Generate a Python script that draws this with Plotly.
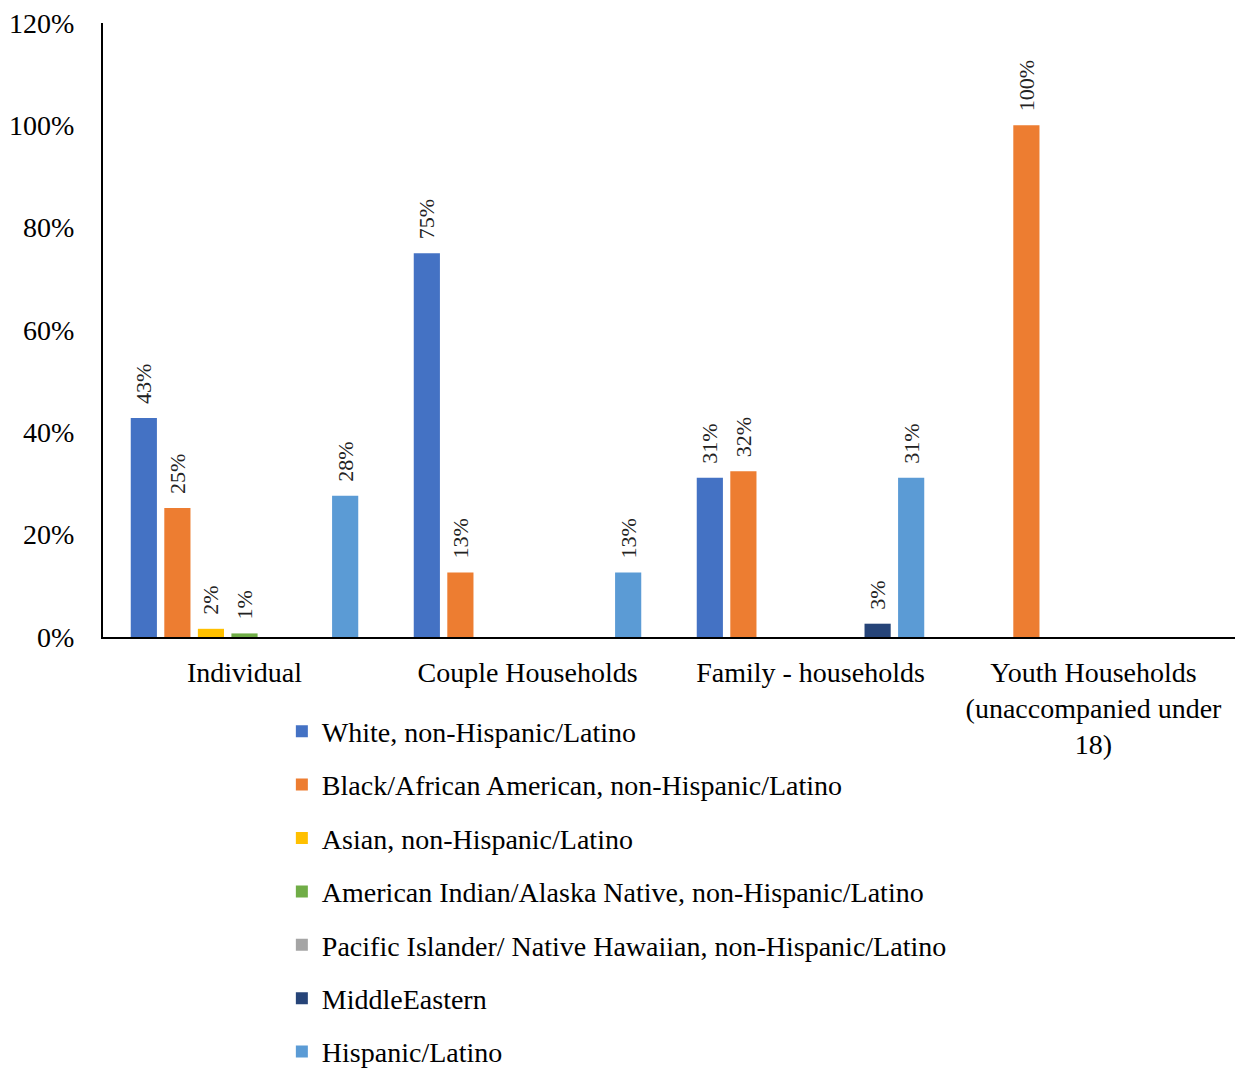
import plotly.graph_objects as go

categories = ["Individual", "Couple Households", "Family - households",
              "Youth Households<br>(unaccompanied under<br>18)"]

series_names = [
    "White, non-Hispanic/Latino",
    "Black/African American, non-Hispanic/Latino",
    "Asian, non-Hispanic/Latino",
    "American Indian/Alaska Native, non-Hispanic/Latino",
    "Pacific Islander/ Native Hawaiian, non-Hispanic/Latino",
    "MiddleEastern",
    "Hispanic/Latino",
]

white = [42.8, 75.0, 31.1, 0]
black = [25.2, 12.6, 32.4, 100.0]
asian = [1.6, 0, 0, 0]
am_indian = [0.7, 0, 0, 0]
pacific = [0, 0, 0, 0]
middle_eastern = [0, 0, 2.6, 0]
hispanic = [27.6, 12.6, 31.1, 0]

values = [white, black, asian, am_indian, pacific, middle_eastern, hispanic]
colors = ["#4472C4", "#ED7D31", "#FFC000", "#70AD47", "#A5A5A5", "#264478", "#5B9BD5"]

y_ticks = [0, 20, 40, 60, 80, 100, 120]
y_tick_labels = ["0%", "20%", "40%", "60%", "80%", "100%", "120%"]

SERIF = "Liberation Serif, Times New Roman, serif"

fig = go.Figure()
for i, (name, vals, col) in enumerate(zip(series_names, values, colors)):
    labels = [f"&nbsp;&nbsp;{int(v + 0.5)}%" if v > 0 else "" for v in vals]
    fig.add_trace(go.Bar(
        x=categories, y=vals, name=name,
        marker=dict(color=col, line=dict(width=0)),
        text=labels, textposition="outside", textangle=-90,
        constraintext="none",
        textfont=dict(family=SERIF, size=22, color="#222222"),
        cliponaxis=False,
        legendgroup=f"g{i}",
    ))

fig.update_layout(
    width=1235, height=1074,
    paper_bgcolor="white", plot_bgcolor="white",
    margin=dict(l=103, r=0, t=23, b=437),
    barmode="group", bargap=0.17, bargroupgap=0.22,
    font=dict(family=SERIF, size=28, color="black"),
    showlegend=True,
    legend=dict(
        orientation="v", x=0.158, xanchor="left",
        yref="container", y=0.3422, yanchor="top",
        font=dict(family=SERIF, size=28, color="black"),
        tracegroupgap=14, itemwidth=30, traceorder="grouped",
        bgcolor="rgba(0,0,0,0)",
    ),
)
fig.update_yaxes(
    range=[0, 120], tickvals=y_ticks, ticktext=y_tick_labels,
    showgrid=False, zeroline=False, automargin=False,
    showline=True, linecolor="black", linewidth=2,
    ticks="", ticklabelstandoff=21,
    tickfont=dict(family=SERIF, size=28, color="black"),
)
fig.update_xaxes(
    showgrid=False, showline=True, linecolor="black", linewidth=2,
    ticks="", ticklabelstandoff=9, automargin=False,
    tickfont=dict(family=SERIF, size=28, color="black"),
)

fig.write_html(
    "out.html",
    config={"displayModeBar": False},
    post_script="document.body.style.margin='0';document.body.style.padding='0';document.body.style.overflow='hidden';",
)
